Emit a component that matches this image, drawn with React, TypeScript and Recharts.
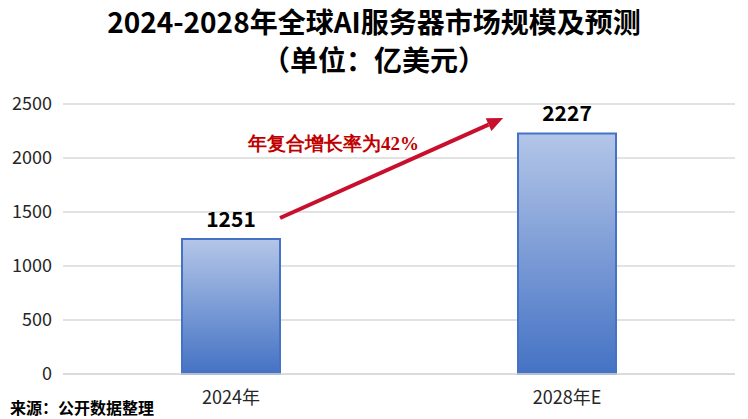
import { BarChart, Bar, XAxis, YAxis, CartesianGrid, LabelList, ReferenceLine } from 'recharts'

const categories = ['2024年', '2028年E']
const marketSize = [1251, 2227]
const yTicks = [0, 500, 1000, 1500, 2000, 2500]
const cagrText = '年复合增长率为42%'
// arrow start / end in value space (y) — x is set by the categories
const arrowValues = [1444, 2370]

const data = categories.map((c, i) => ({ year: c, value: marketSize[i] }))

const font = '"Noto Sans CJK SC", "Noto Sans", sans-serif'

const ArrowShape = (props: any) => {
  const { x1, y1, x2, y2 } = props
  if (x1 == null || x2 == null) return null
  const sx = x1 + (x2 - x1) * 0.146
  const ex = x1 + (x2 - x1) * 0.81
  const ang = Math.atan2(y2 - y1, ex - sx)
  const head = 16
  const w = 7
  const bx = ex - head * Math.cos(ang)
  const by = y2 - head * Math.sin(ang)
  const px = -Math.sin(ang) * w
  const py = Math.cos(ang) * w
  return (
    <g>
      <line x1={sx} y1={y1} x2={bx} y2={by} stroke="#c8102e" strokeWidth={4} />
      <polygon points={`${ex},${y2} ${bx + px},${by + py} ${bx - px},${by - py}`} fill="#c8102e" />
      <text
        x={sx - 32}
        y={y1 - 68}
        fill="#c00000"
        fontSize={19}
        fontWeight="bold"
        fontFamily='"Liberation Serif", "Times New Roman", serif'
      >
        {cagrText}
      </text>
    </g>
  )
}

export default function App() {
  return (
    <div style={{ position: 'fixed', left: 0, top: 0, width: 748, height: 419, background: '#fff', fontFamily: font }}>
      <div style={{ position: 'absolute', top: 2, width: 748, textAlign: 'center', fontSize: 28, fontWeight: 'bold', lineHeight: '38px', color: '#000' }}>
        2024-2028年全球AI服务器市场规模及预测
        <br />
        （单位：亿美元）
      </div>
      <BarChart width={748} height={419} data={data} margin={{ top: 104, right: 13, bottom: 15, left: 0 }}>
        <defs>
          <linearGradient id="barGrad" x1="0" y1="0" x2="0" y2="1">
            <stop offset="0%" stopColor="#b4c6e8" />
            <stop offset="100%" stopColor="#4472c4" />
          </linearGradient>
        </defs>
        <CartesianGrid vertical={false} stroke="#d9d9d9" strokeWidth={1.5} />
        <XAxis
          dataKey="year"
          axisLine={{ stroke: '#d9d9d9', strokeWidth: 1.5 }}
          tickLine={false}
          tickMargin={11}
          tick={{ fill: '#262626', fontSize: 18, fontFamily: font }}
        />
        <YAxis
          width={63}
          domain={[0, 2500]}
          ticks={yTicks}
          axisLine={false}
          tickLine={false}
          tickSize={0}
          tickMargin={11}
          tick={{ fill: '#262626', fontSize: 18, fontFamily: font }}
        />
        <Bar dataKey="value" barSize={98} fill="url(#barGrad)" stroke="#4472c4" strokeWidth={2} isAnimationActive={false}>
          <LabelList dataKey="value" position="top" offset={12} fill="#000" fontSize={21} fontWeight="bold" fontFamily={font} />
        </Bar>
        <ReferenceLine
          segment={[
            { x: categories[0], y: arrowValues[0] },
            { x: categories[1], y: arrowValues[1] },
          ]}
          ifOverflow="visible"
          shape={ArrowShape}
        />
      </BarChart>
      <div style={{ position: 'absolute', left: 10, top: 395, fontSize: 16, fontWeight: 'bold', color: '#000' }}>来源：公开数据整理</div>
    </div>
  )
}
